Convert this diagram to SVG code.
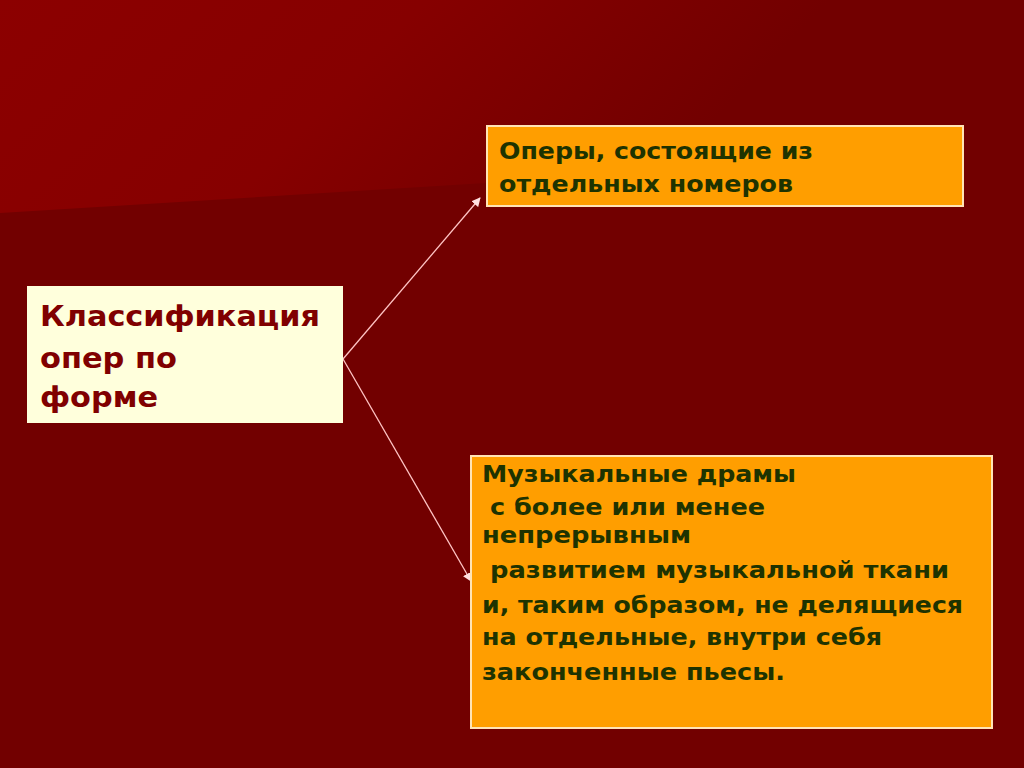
<svg xmlns="http://www.w3.org/2000/svg" width="1024" height="768" viewBox="0 0 1024 768">
  <defs>
    <linearGradient id="topGlow" x1="0" y1="0" x2="1" y2="0.2">
      <stop offset="0" stop-color="#8c0000"/>
      <stop offset="0.4" stop-color="#860000"/>
      <stop offset="0.78" stop-color="#720000"/>
      <stop offset="1" stop-color="#720000"/>
    </linearGradient>
    <marker id="arrow" viewBox="0 0 10 10" refX="9" refY="5" markerWidth="9" markerHeight="9" markerUnits="userSpaceOnUse" orient="auto">
      <path d="M0,0 L10,5 L0,10 z" fill="#ffe0e0"/>
    </marker>
    <style>
      .box { fill: #ff9e00; stroke: #ffe4b5; stroke-width: 2; }
      .main { fill: #ffffdc; }
      .t { font-family: "DejaVu Sans", "Liberation Sans", sans-serif; font-weight: bold; fill: #1e3300; font-size: 23px; }
      .tm { font-family: "DejaVu Sans", "Liberation Sans", sans-serif; font-weight: bold; fill: #800000; font-size: 29px; }
      .conn { stroke: #ffc4c4; stroke-width: 1.3; fill: none; }
    </style>
  </defs>

  <rect x="0" y="0" width="1024" height="768" fill="#720000"/>
  <polygon points="0,0 1024,0 1024,150 0,213" fill="url(#topGlow)"/>

  <g id="connectors">
    <line class="conn" x1="343" y1="359" x2="480" y2="198" marker-end="url(#arrow)"/>
    <line class="conn" x1="343" y1="359" x2="471" y2="581" marker-end="url(#arrow)"/>
  </g>

  <g id="node-main">
    <rect class="main" x="27" y="286" width="316" height="137"/>
    <text class="tm" x="40" y="326" textLength="280" lengthAdjust="spacingAndGlyphs">Классификация</text>
    <text class="tm" x="40" y="368" textLength="137" lengthAdjust="spacingAndGlyphs">опер по</text>
    <text class="tm" x="40" y="407" textLength="118" lengthAdjust="spacingAndGlyphs">форме</text>
  </g>

  <g id="node-numbers">
    <rect class="box" x="487" y="126" width="476" height="80"/>
    <text class="t" x="499" y="159" textLength="314" lengthAdjust="spacingAndGlyphs">Оперы, состоящие из</text>
    <text class="t" x="499" y="192" textLength="294" lengthAdjust="spacingAndGlyphs">отдельных номеров</text>
  </g>

  <g id="node-drama">
    <rect class="box" x="471" y="456" width="521" height="272"/>
    <text class="t" x="482" y="482" textLength="314" lengthAdjust="spacingAndGlyphs">Музыкальные драмы</text>
    <text class="t" x="490" y="515" textLength="275" lengthAdjust="spacingAndGlyphs">с более или менее</text>
    <text class="t" x="482" y="543" textLength="209" lengthAdjust="spacingAndGlyphs">непрерывным</text>
    <text class="t" x="490" y="578" textLength="459" lengthAdjust="spacingAndGlyphs">развитием музыкальной ткани</text>
    <text class="t" x="482" y="613" textLength="481" lengthAdjust="spacingAndGlyphs">и, таким образом, не делящиеся</text>
    <text class="t" x="482" y="645" textLength="400" lengthAdjust="spacingAndGlyphs">на отдельные, внутри себя</text>
    <text class="t" x="482" y="680" textLength="303" lengthAdjust="spacingAndGlyphs">законченные пьесы.</text>
  </g>
</svg>
